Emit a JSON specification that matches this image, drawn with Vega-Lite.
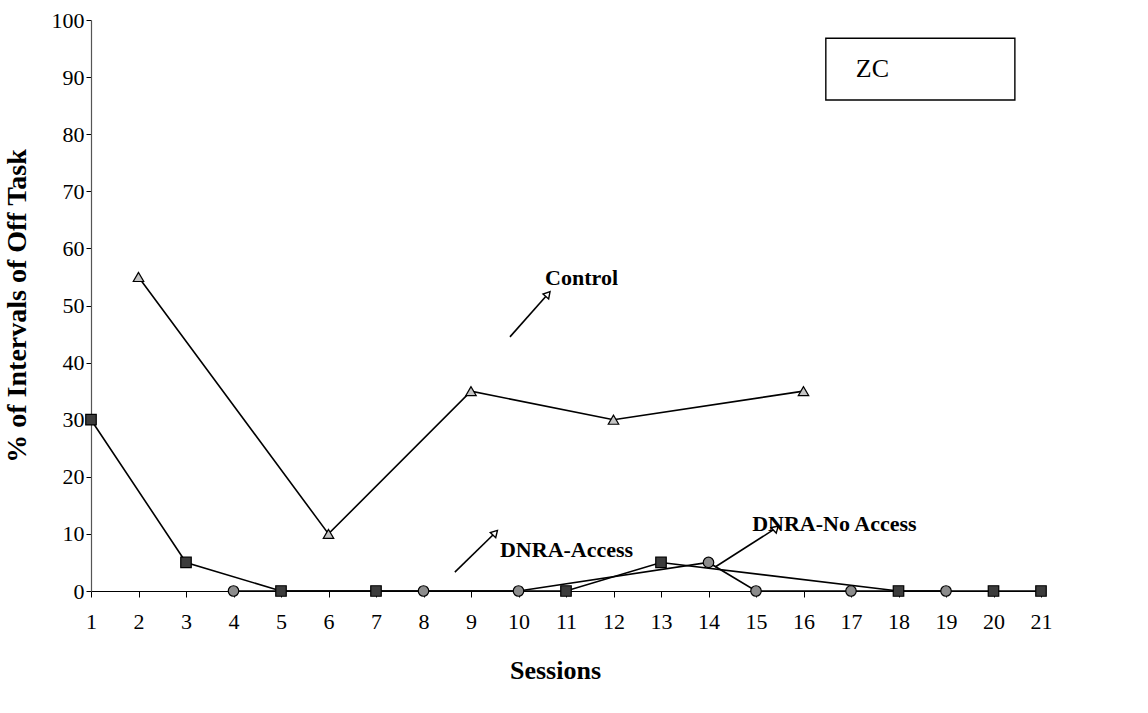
{
  "$schema": "https://vega.github.io/schema/vega-lite/v6.json",
  "width": 950,
  "height": 571,
  "autosize": {"type": "none"},
  "padding": {"left": 91, "top": 20, "right": 107, "bottom": 122},
  "background": "white",
  "config": {
    "view": {"stroke": null},
    "font": "Liberation Serif",
    "axis": {
      "grid": false,
      "labelFont": "Liberation Serif",
      "labelFontSize": 22,
      "labelColor": "black",
      "titleFont": "Liberation Serif",
      "titleFontWeight": "bold",
      "titleColor": "black",
      "domainColor": "black",
      "tickColor": "black",
      "domainWidth": 1.2
    }
  },
  "datasets": {
    "obs": [
      {"session": 2, "value": 55, "series": "Control"},
      {"session": 6, "value": 10, "series": "Control"},
      {"session": 9, "value": 35, "series": "Control"},
      {"session": 12, "value": 30, "series": "Control"},
      {"session": 16, "value": 35, "series": "Control"},
      {"session": 1, "value": 30, "series": "DNRA-No Access"},
      {"session": 3, "value": 5, "series": "DNRA-No Access"},
      {"session": 5, "value": 0, "series": "DNRA-No Access"},
      {"session": 7, "value": 0, "series": "DNRA-No Access"},
      {"session": 11, "value": 0, "series": "DNRA-No Access"},
      {"session": 13, "value": 5, "series": "DNRA-No Access"},
      {"session": 18, "value": 0, "series": "DNRA-No Access"},
      {"session": 20, "value": 0, "series": "DNRA-No Access"},
      {"session": 21, "value": 0, "series": "DNRA-No Access"},
      {"session": 4, "value": 0, "series": "DNRA-Access"},
      {"session": 8, "value": 0, "series": "DNRA-Access"},
      {"session": 10, "value": 0, "series": "DNRA-Access"},
      {"session": 14, "value": 5, "series": "DNRA-Access"},
      {"session": 15, "value": 0, "series": "DNRA-Access"},
      {"session": 17, "value": 0, "series": "DNRA-Access"},
      {"session": 19, "value": 0, "series": "DNRA-Access"}
    ],
    "notes": [
      {"label": "Control", "x1": 9.82, "y1": 44.5, "x2": 10.62, "y2": 52.0, "tx": 10.56, "ty": 54.8},
      {"label": "DNRA-Access", "x1": 8.66, "y1": 3.3, "x2": 9.51, "y2": 10.2, "tx": 9.61, "ty": 7.2},
      {"label": "DNRA-No Access", "x1": 14.14, "y1": 4.2, "x2": 15.42, "y2": 11.0, "tx": 14.92, "ty": 11.7}
    ],
    "box": [
      {"name": "ZC", "x1": 16.47, "x2": 20.45, "y1": 96.8, "y2": 86.0, "tx": 17.45, "ty": 91.4}
    ]
  },
  "layer": [
    {
      "data": {"name": "obs"},
      "mark": {"type": "line", "color": "black", "strokeWidth": 1.6},
      "encoding": {
        "x": {
          "field": "session", "type": "quantitative",
          "scale": {"domain": [1, 21], "nice": false, "zero": false},
          "axis": {"values": [1,2,3,4,5,6,7,8,9,10,11,12,13,14,15,16,17,18,19,20,21], "tickSize": 6, "labelPadding": 14, "title": "Sessions", "titleFontSize": 26, "titlePadding": 25, "titleX": 464, "labelFlush": false}
        },
        "y": {
          "field": "value", "type": "quantitative",
          "scale": {"domain": [0, 100], "nice": false},
          "axis": {"values": [0,10,20,30,40,50,60,70,80,90,100], "tickSize": 5, "labelPadding": 2, "title": "% of Intervals of Off Task", "titleFontSize": 28, "titlePadding": 20, "domainColor": "#555"}
        },
        "detail": {"field": "series"},
        "order": {"field": "session"}
      }
    },
    {
      "data": {"name": "obs"},
      "mark": {"type": "point", "filled": true, "stroke": "black", "strokeWidth": 1.2, "opacity": 1, "size": 110},
      "encoding": {
        "x": {"field": "session", "type": "quantitative"},
        "y": {"field": "value", "type": "quantitative"},
        "shape": {"field": "series", "type": "nominal", "scale": {"domain": ["Control", "DNRA-Access", "DNRA-No Access"], "range": ["triangle-up", "circle", "square"]}, "legend": null},
        "fill": {"field": "series", "type": "nominal", "scale": {"domain": ["Control", "DNRA-Access", "DNRA-No Access"], "range": ["#c4c4c4", "#8c8c8c", "#3c3c3c"]}, "legend": null}
      }
    },
    {
      "data": {"name": "notes"},
      "mark": {"type": "rule", "color": "black", "strokeWidth": 1.6},
      "encoding": {
        "x": {"field": "x1", "type": "quantitative"},
        "y": {"field": "y1", "type": "quantitative"},
        "x2": {"field": "x2"},
        "y2": {"field": "y2"}
      }
    },
    {
      "data": {"name": "notes"},
      "mark": {"type": "point", "shape": "triangle-up", "filled": true, "fill": "white", "stroke": "black", "strokeWidth": 1.4, "size": 55, "opacity": 1},
      "encoding": {
        "x": {"field": "x2", "type": "quantitative"},
        "y": {"field": "y2", "type": "quantitative"},
        "angle": {"field": "label", "type": "nominal", "scale": {"domain": ["Control", "DNRA-Access", "DNRA-No Access"], "range": [41, 46, 57]}, "legend": null}
      }
    },
    {
      "data": {"name": "notes"},
      "mark": {"type": "text", "align": "left", "baseline": "middle", "font": "Liberation Serif", "fontWeight": "bold", "fontSize": 22, "color": "black"},
      "encoding": {
        "x": {"field": "tx", "type": "quantitative"},
        "y": {"field": "ty", "type": "quantitative"},
        "text": {"field": "label"}
      }
    },
    {
      "data": {"name": "box"},
      "mark": {"type": "rect", "fill": "white", "stroke": "black", "strokeWidth": 1.4},
      "encoding": {
        "x": {"field": "x1", "type": "quantitative"},
        "x2": {"field": "x2"},
        "y": {"field": "y1", "type": "quantitative"},
        "y2": {"field": "y2"}
      }
    },
    {
      "data": {"name": "box"},
      "mark": {"type": "text", "align": "center", "baseline": "middle", "font": "Liberation Serif", "fontSize": 26, "color": "black"},
      "encoding": {
        "x": {"field": "tx", "type": "quantitative"},
        "y": {"field": "ty", "type": "quantitative"},
        "text": {"field": "name"}
      }
    }
  ]
}
